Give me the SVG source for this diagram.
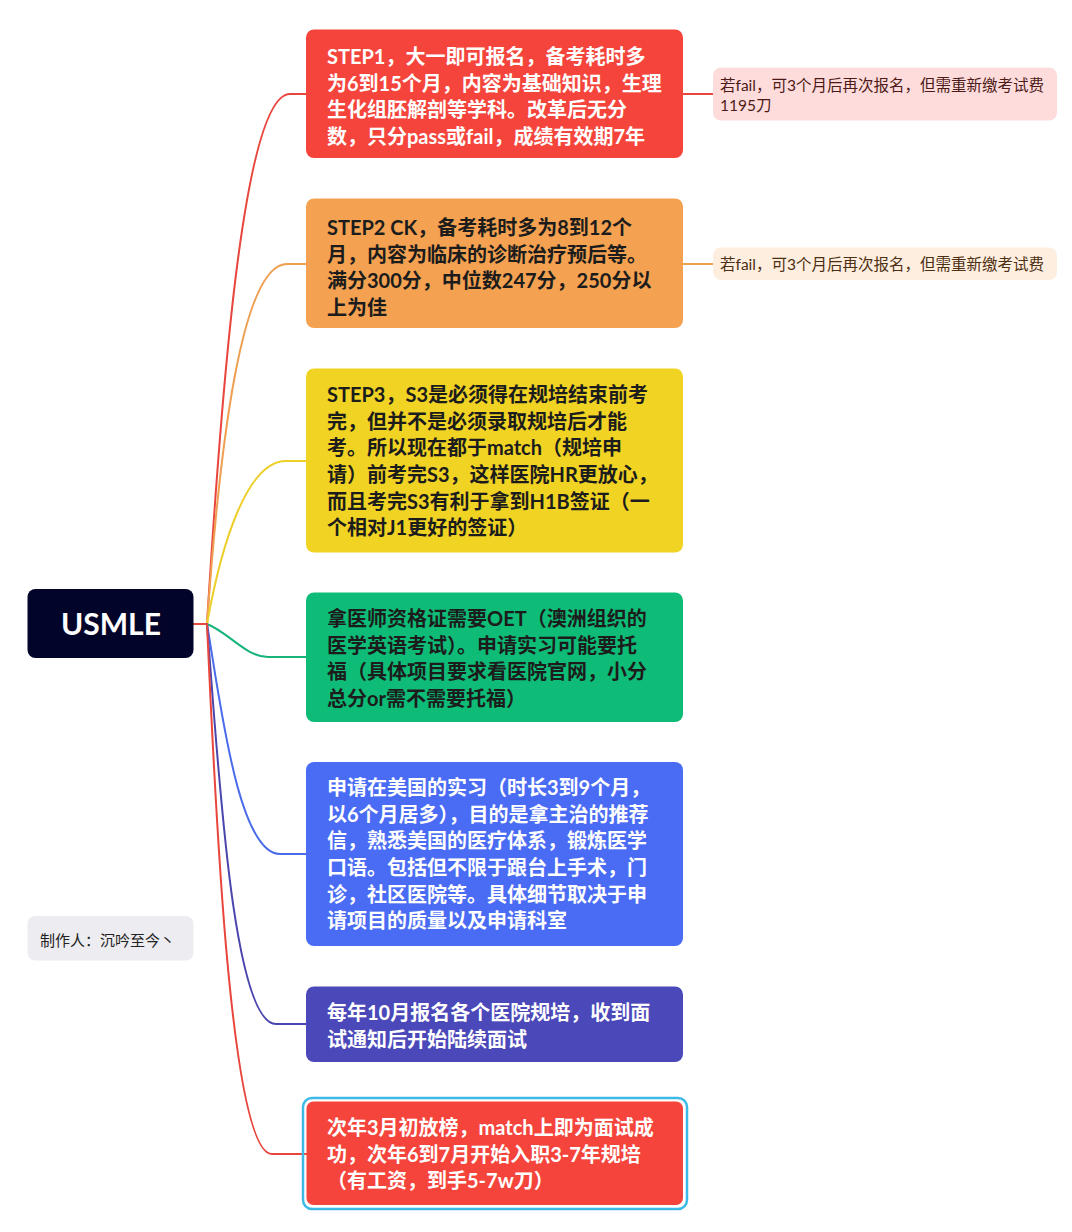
<svg xmlns="http://www.w3.org/2000/svg" width="1072" height="1232" viewBox="0 0 1072 1232">
<style>
  .t{font-family:"Lato","Noto Sans CJK SC",sans-serif;font-weight:bold;font-size:20px}
  .w{fill:#ffffff}
  .d{fill:#1c1c1c}
  .n{font-family:"Lato","Noto Sans CJK SC",sans-serif;font-size:15.5px}
  .c{fill:none;stroke-width:2;stroke-linecap:round}
</style>
<rect width="1072" height="1232" fill="#ffffff"/>
<g id="connectors">
  <path class="c" stroke="#E8463D" d="M193,624 H207"/>
  <path class="c" stroke="#E8463D" d="M207,624 C222,380 244,94 290,94 H307"/>
  <path class="c" stroke="#EE9F52" d="M207,624 C220,440 242,264 287,264 H307"/>
  <path class="c" stroke="#EDCF2A" d="M207,624 C222,540 248,461 286,461 H307"/>
  <path class="c" stroke="#17B47A" d="M207,624 C228,632 246,657 268,657 H307"/>
  <path class="c" stroke="#4A6BEA" d="M207,624 C220,700 238,854 280,854 H307"/>
  <path class="c" stroke="#4A46AE" d="M207,624 C218,760 232,1024 276,1024 H307"/>
  <path class="c" stroke="#E8463D" d="M207,624 C215,800 230,1154 272,1154 H307"/>
  <path class="c" stroke="#E8463D" d="M683,94 H713"/>
  <path class="c" stroke="#EE9F52" d="M683,264 H713"/>
</g>
<g id="root">
  <rect x="27.5" y="589" width="166" height="69" rx="8" fill="#03042A"/>
  <text x="111" y="634.5" text-anchor="middle" font-family="Lato,'Liberation Sans',sans-serif" font-weight="bold" font-size="30" fill="#ffffff">USMLE</text>
</g>
<g id="step1">
  <rect x="306" y="29.5" width="377" height="128.5" rx="8" fill="#F5443B"/>
  <text class="t w"><tspan x="327" y="64">STEP1，大一即可报名，备考耗时多</tspan><tspan x="327" y="90.7">为6到15个月，内容为基础知识，生理</tspan><tspan x="327" y="117.3">生化组胚解剖等学科。改革后无分</tspan><tspan x="327" y="144">数，只分pass或fail，成绩有效期7年</tspan></text>
</g>
<g id="note1">
  <rect x="713" y="67.5" width="344" height="53" rx="8" fill="#FDDCDB"/>
  <text class="n" fill="#4D1A17"><tspan x="720" y="91">若fail，可3个月后再次报名，但需重新缴考试费</tspan><tspan x="720" y="111">1195刀</tspan></text>
</g>
<g id="step2">
  <rect x="306" y="198.5" width="377" height="129.5" rx="8" fill="#F4A251"/>
  <text class="t d"><tspan x="327" y="235">STEP2 CK，备考耗时多为8到12个</tspan><tspan x="327" y="261.7">月，内容为临床的诊断治疗预后等。</tspan><tspan x="327" y="288.3">满分300分，中位数247分，250分以</tspan><tspan x="327" y="315">上为佳</tspan></text>
</g>
<g id="note2">
  <rect x="713" y="247.5" width="344" height="32.5" rx="8" fill="#FDEEE0"/>
  <text class="n" fill="#4D2E10" x="720" y="269.5">若fail，可3个月后再次报名，但需重新缴考试费</text>
</g>
<g id="step3">
  <rect x="306" y="368.5" width="377" height="184" rx="8" fill="#F1D324"/>
  <text class="t d"><tspan x="327" y="402">STEP3，S3是必须得在规培结束前考</tspan><tspan x="327" y="428.7">完，但并不是必须录取规培后才能</tspan><tspan x="327" y="455.3">考。所以现在都于match（规培申</tspan><tspan x="327" y="482">请）前考完S3，这样医院HR更放心，</tspan><tspan x="327" y="508.7">而且考完S3有利于拿到H1B签证（一</tspan><tspan x="327" y="535.3">个相对J1更好的签证）</tspan></text>
</g>
<g id="oet">
  <rect x="306" y="592.5" width="377" height="129.5" rx="8" fill="#0EBC77"/>
  <text class="t d"><tspan x="327" y="626">拿医师资格证需要OET（澳洲组织的</tspan><tspan x="327" y="652.7">医学英语考试）。申请实习可能要托</tspan><tspan x="327" y="679.3">福（具体项目要求看医院官网，小分</tspan><tspan x="327" y="706">总分or需不需要托福）</tspan></text>
</g>
<g id="intern">
  <rect x="306" y="762" width="377" height="184" rx="8" fill="#4A6CF5"/>
  <text class="t w"><tspan x="327" y="795">申请在美国的实习（时长3到9个月，</tspan><tspan x="327" y="821.7">以6个月居多），目的是拿主治的推荐</tspan><tspan x="327" y="848.3">信，熟悉美国的医疗体系，锻炼医学</tspan><tspan x="327" y="875">口语。包括但不限于跟台上手术，门</tspan><tspan x="327" y="901.7">诊，社区医院等。具体细节取决于申</tspan><tspan x="327" y="928.3">请项目的质量以及申请科室</tspan></text>
</g>
<g id="apply">
  <rect x="306" y="986.5" width="377" height="75.5" rx="8" fill="#4B48BA"/>
  <text class="t w"><tspan x="327" y="1020">每年10月报名各个医院规培，收到面</tspan><tspan x="327" y="1046.7">试通知后开始陆续面试</tspan></text>
</g>
<g id="match">
  <rect x="303" y="1098" width="384" height="111" rx="9" fill="none" stroke="#3DB9E6" stroke-width="2.5"/>
  <rect x="306.5" y="1101.5" width="376.5" height="103.5" rx="7" fill="#F5443B"/>
  <text class="t w"><tspan x="327" y="1135">次年3月初放榜，match上即为面试成</tspan><tspan x="327" y="1161.7">功，次年6到7月开始入职3-7年规培</tspan><tspan x="327" y="1188.3">（有工资，到手5-7w刀）</tspan></text>
</g>
<g id="credit">
  <rect x="27.5" y="916" width="166" height="44.5" rx="8" fill="#EDECF0"/>
  <text x="40" y="946" font-family="'Noto Sans CJK SC',sans-serif" font-size="15" fill="#222222">制作人：沉吟至今丶</text>
</g>
</svg>
